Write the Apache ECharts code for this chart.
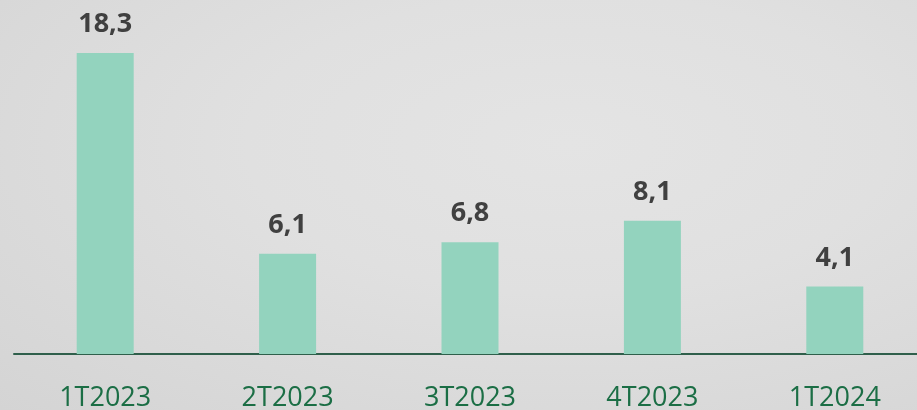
<!DOCTYPE html>
<html><head><meta charset="utf-8">
<script src="https://cdn.jsdelivr.net/npm/echarts@6/dist/echarts.min.js"></script>
<style>html,body{margin:0;padding:0;}#c{width:917px;height:410px;background:radial-gradient(ellipse at 62% 35%, #e4e4e4 0%, #e0e0e0 40%, #d9d9d9 75%, #d4d4d4 100%);}</style>
</head><body><div id="c"></div>
<script>
const categories = ['1T2023','2T2023','3T2023','4T2023','1T2024'];
const values = [18.3, 6.1, 6.8, 8.1, 4.1];
const chart = echarts.init(document.getElementById('c'), null, {renderer:'canvas'});
chart.setOption({
  backgroundColor: 'transparent',
  animation: false,
  grid: {left: 14, top: 25, width: 912, height: 329, containLabel: false, outerBoundsMode: 'none'},
  xAxis: {
    type: 'category', data: categories,
    axisLine: {lineStyle: {color: '#2f5f4b', width: 2}},
    axisTick: {show: false},
    axisLabel: {color: '#1b6e45', fontSize: 27, fontFamily: 'Open Sans', margin: 31}
  },
  yAxis: {type: 'value', min: 0, max: 20, show: false, splitLine: {show: false}},
  series: [{
    type: 'bar', data: values, barWidth: 57,
    itemStyle: {color: '#93d3be'},
    label: {show: true, position: 'top', distance: 15, color: '#404040', fontSize: 27, fontWeight: 'bold', fontFamily: 'Open Sans',
      formatter: p => String(p.value).replace('.', ',')}
  }]
});
</script></body></html>
